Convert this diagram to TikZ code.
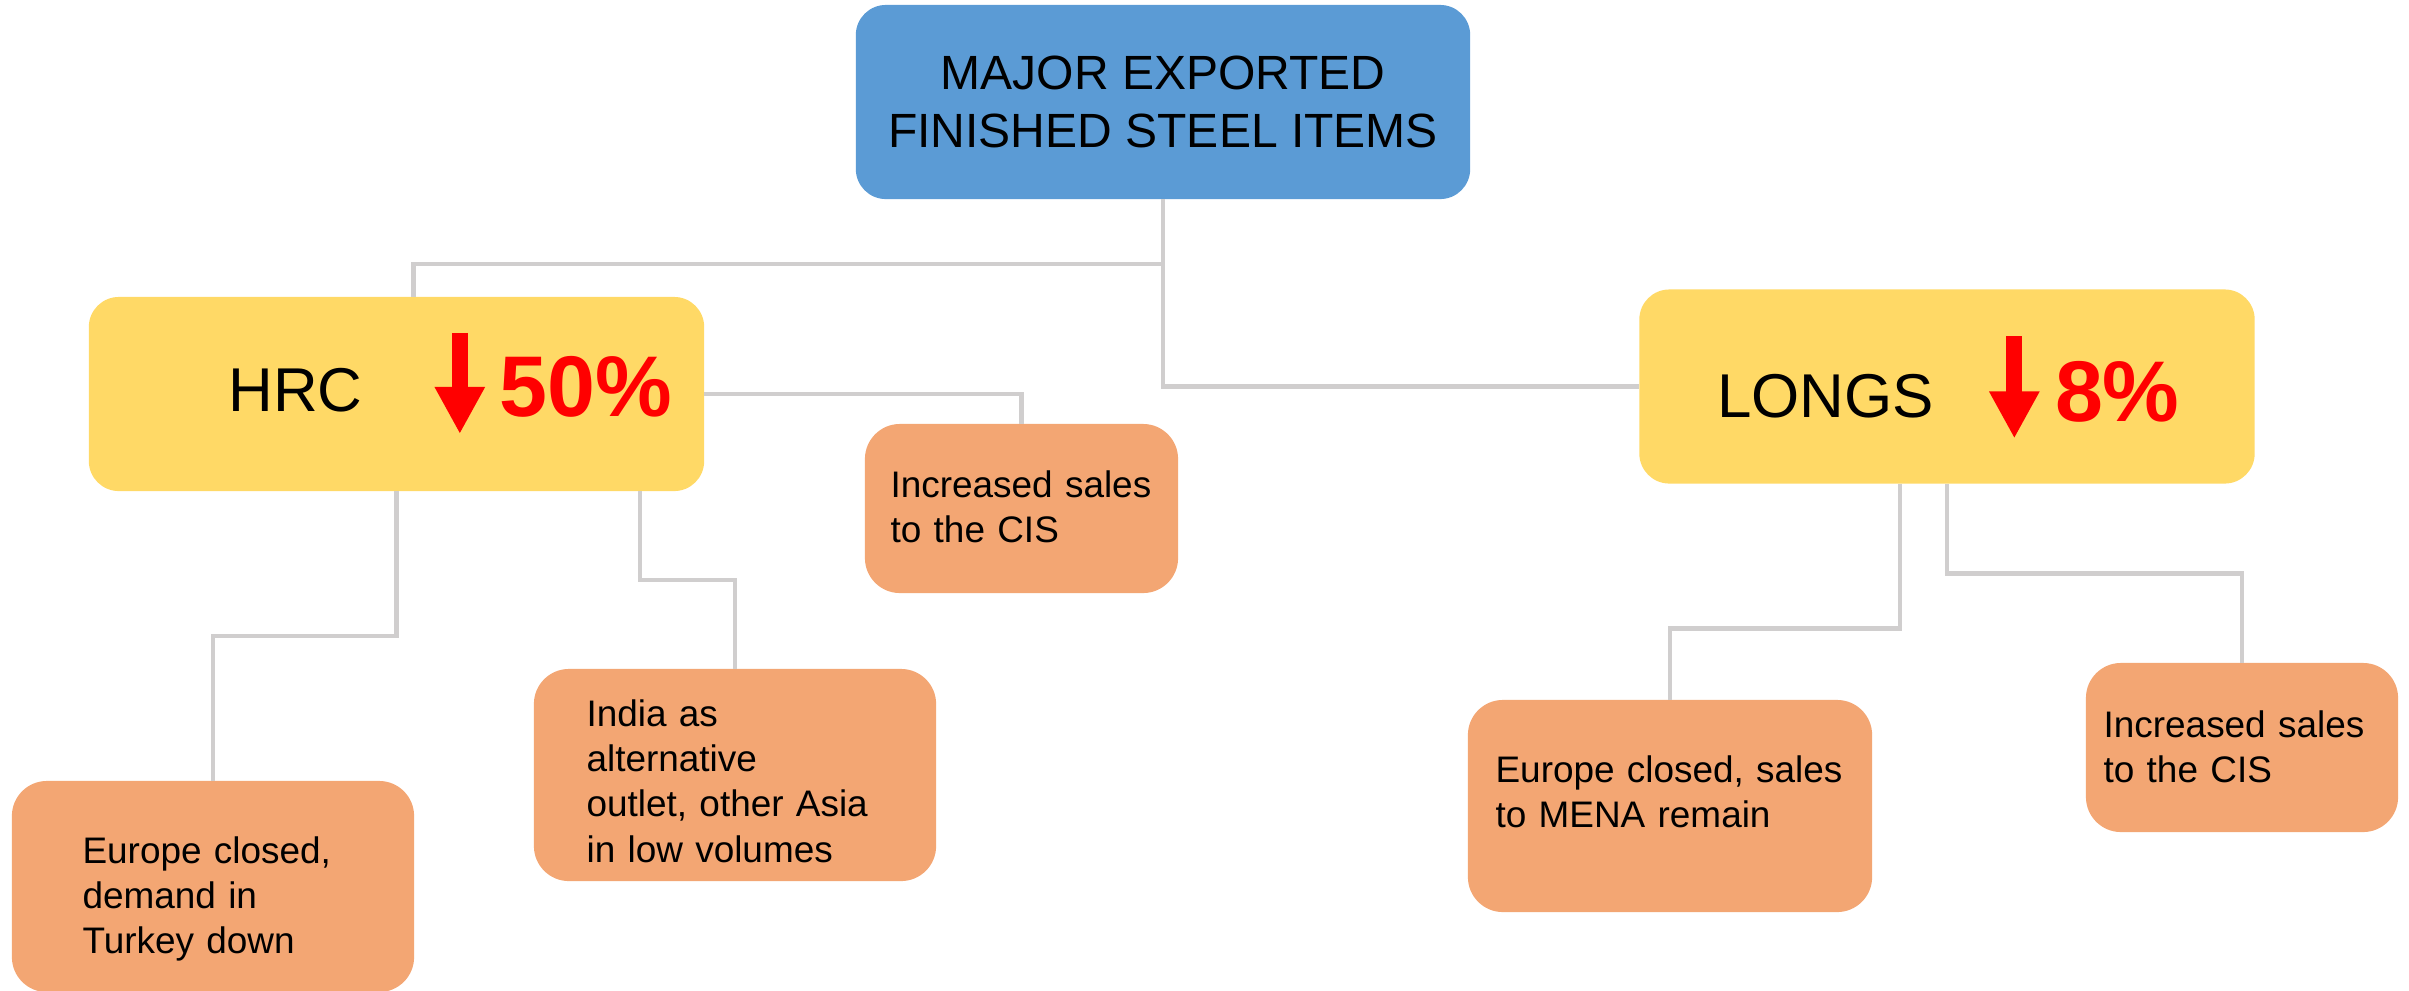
\documentclass[tikz,border=0pt]{standalone}
\usepackage{fontspec}
\setmainfont{Liberation Sans}
\usetikzlibrary{arrows.meta}

\definecolor{headblue}{HTML}{5B9BD5}
\definecolor{catyellow}{HTML}{FFD966}
\definecolor{noteorange}{HTML}{F3A673}
\definecolor{linkgray}{HTML}{D0CECE}

\begin{document}
\begin{tikzpicture}[x=0.01cm, y=-0.01cm,
    box/.style={rounded corners=0.3cm, inner sep=0pt, outer sep=0pt},
    head/.style={box, fill=headblue, align=center, font=\fontsize{13.66}{16.5}\selectfont},
    cat/.style={box, fill=catyellow, minimum width=6.15cm, minimum height=1.94cm},
    note/.style={box, fill=noteorange, rounded corners=0.35cm},
    notetext/.style={anchor=base west, align=left, text width=4cm, inner sep=0pt, font=\fontsize{10.5}{12.8}\selectfont},
    catlabel/.style={anchor=base west, inner sep=0pt, font=\fontsize{17.6}{21}\selectfont},
    drop/.style={red, line width=0.16cm, -{Triangle[width=0.47cm, length=0.47cm]}},
    dropval/.style={anchor=base west, inner sep=0pt, text=red, font=\bfseries\fontsize{24.5}{29}\selectfont},
    link/.style={draw=linkgray, line width=0.045cm}]

    \useasboundingbox (0,0) rectangle (2409,990);

    % Top box
    \node[head, minimum width=6.14cm, minimum height=1.94cm] (top) at (1163,102) {MAJOR EXPORTED\\FINISHED STEEL ITEMS};

    % HRC
    \node[cat] (hrc) at (396.5,394) {};
    \node[catlabel] (hrclbl) at ([shift={(139,115)}]hrc.north west) {HRC};
    \draw[drop] ([shift={(371,36)}]hrc.north west) -- ++(0,101);
    \node[dropval] (hrcval) at ([shift={(410,120)}]hrc.north west) {50\%};

    % LONGS
    \node[cat] (longs) at (1947,386.5) {};
    \node[catlabel] (longslbl) at ([shift={(77,128)}]longs.north west) {LONGS};
    \draw[drop] ([shift={(375,47)}]longs.north west) -- ++(0,102);
    \node[dropval] (longsval) at ([shift={(415,132)}]longs.north west) {8\%};

    % Notes
    \node[note, minimum width=3.13cm, minimum height=1.69cm] (cis1) at (1021.5,508.5) {};
    \node[notetext] (cis1txt) at ([shift={(25,74)}]cis1.north west) {Increased sales\\to the CIS};

    \node[note, minimum width=4.02cm, minimum height=2.11cm] (eur1) at (213,886.5) {};
    \node[notetext] (eur1txt) at ([shift={(70,83)}]eur1.north west) {Europe closed,\\demand in\\Turkey down};

    \node[note, minimum width=4.02cm, minimum height=2.12cm] (india) at (735,775) {};
    \node[notetext] (indiatxt) at ([shift={(52,58)}]india.north west) {India as\\alternative\\outlet, other Asia\\in low volumes};

    \node[note, minimum width=4.04cm, minimum height=2.12cm] (eur2) at (1670,806) {};
    \node[notetext] (eur2txt) at ([shift={(27,83)}]eur2.north west) {Europe closed, sales\\to MENA remain};

    \node[note, minimum width=3.12cm, minimum height=1.69cm] (cis2) at (2242,747.5) {};
    \node[notetext] (cis2txt) at ([shift={(17,75)}]cis2.north west) {Increased sales\\to the CIS};

    % Connectors
    \draw[link] (top.south) -- ++(0,65) -| ([xshift=0.17cm]hrc.north);
    \draw[link] (top.south) |- (longs.west);
    \draw[link] (hrc.east) -| (cis1.north);
    \draw[link] (hrc.south) -- ++(0,145) -| (eur1.north);
    \draw[link] ([xshift=2.435cm]hrc.south) -- ++(0,89) -| (india.north);
    \draw[link] ([xshift=-0.47cm]longs.south) -- ++(0,145) -| (eur2.north);
    \draw[link] (longs.south) -- ++(0,90) -| (cis2.north);
\end{tikzpicture}
\end{document}
